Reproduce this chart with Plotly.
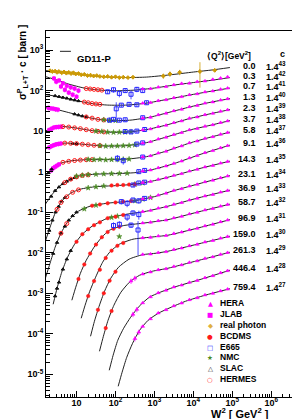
import plotly.graph_objects as go

# ---------------- labels ----------------
q2_labels = ["0.0", "0.3", "0.7", "1.3", "2.3", "3.7", "5.8", "9.1", "14.3", "23.1",
             "36.9", "58.7", "96.9", "159.0", "261.3", "446.4", "759.4"]
c_exponents = [43, 42, 41, 40, 39, 38, 37, 36, 35, 34, 33, 32, 31, 30, 29, 28, 27]

# ---------------- GD11-P model curves: log10(W^2) and log10(sigma*c) ----------------
c0_lw2 = [0.2, 0.7, 1.2, 1.8, 2.3, 2.8, 3.4, 4.0, 4.5, 4.94]
c0_ls = [2.494, 2.444, 2.383, 2.333, 2.321, 2.333, 2.388, 2.457, 2.511, 2.568]
c1_lw2 = [0.2, 0.5, 0.8, 1.2, 1.6, 2.0, 2.5, 3.0, 3.5, 4.0, 4.5, 4.94]
c1_ls = [2.346, 2.259, 2.160, 2.062, 2.012, 1.995, 2.012, 2.062, 2.136, 2.198, 2.259, 2.321]
c2_lw2 = [0.2, 0.6, 1.0, 1.4, 1.8, 2.3, 2.8, 3.3, 3.9, 4.4, 4.94]
c2_ls = [1.901, 1.840, 1.753, 1.679, 1.642, 1.642, 1.691, 1.778, 1.889, 1.975, 2.062]
c3_lw2 = [0.2, 0.5, 0.8, 1.2, 1.6, 2.0, 2.4, 2.9, 3.4, 3.9, 4.4, 4.94]
c3_ls = [1.580, 1.531, 1.457, 1.358, 1.284, 1.259, 1.272, 1.346, 1.469, 1.593, 1.704, 1.802]
c4_lw2 = [0.2, 0.45, 0.7, 1.0, 1.4, 1.8, 2.3, 2.8, 3.3, 3.9, 4.4, 4.94]
c4_ls = [1.000, 1.099, 1.111, 1.074, 1.012, 0.975, 0.975, 1.037, 1.148, 1.309, 1.420, 1.531]
c5_lw2 = [0.2, 0.45, 0.7, 1.0, 1.4, 1.8, 2.3, 2.8, 3.3, 3.9, 4.4, 4.94]
c5_ls = [0.556, 0.667, 0.704, 0.691, 0.654, 0.630, 0.642, 0.716, 0.852, 1.025, 1.136, 1.259]
c6_lw2 = [0.2, 0.4, 0.6, 0.9, 1.3, 1.8, 2.3, 2.8, 3.3, 3.9, 4.4, 4.94]
c6_ls = [-0.111, 0.086, 0.210, 0.272, 0.296, 0.296, 0.309, 0.370, 0.506, 0.704, 0.840, 0.975]
c7_lw2 = [0.2, 0.4, 0.6, 0.85, 1.1, 1.5, 2.0, 2.5, 3.0, 3.5, 4.2, 4.94]
c7_ls = [-0.802, -0.531, -0.333, -0.185, -0.099, -0.062, -0.049, -0.025, 0.062, 0.198, 0.432, 0.654]
c8_lw2 = [0.2, 0.32, 0.45, 0.62, 0.85, 1.1, 1.5, 2.0, 2.5, 3.0, 3.5, 4.2, 4.94]
c8_ls = [-1.716, -1.370, -1.025, -0.728, -0.531, -0.432, -0.370, -0.346, -0.309, -0.222, -0.099, 0.086, 0.259]
c9_lw2 = [0.2, 0.32, 0.45, 0.6, 0.8, 1.05, 1.35, 1.8, 2.5, 3.0, 3.5, 4.2, 4.94]
c9_ls = [-2.630, -2.259, -1.864, -1.519, -1.198, -0.975, -0.852, -0.778, -0.716, -0.617, -0.469, -0.284, -0.099]
c10_lw2 = [0.4, 0.5, 0.62, 0.77, 0.95, 1.15, 1.4, 1.8, 2.3, 2.8, 3.35, 4.1, 4.94]
c10_ls = [-3.272, -2.877, -2.481, -2.111, -1.790, -1.543, -1.346, -1.148, -1.049, -0.975, -0.852, -0.654, -0.457]
c11_lw2 = [0.88, 0.98, 1.1, 1.25, 1.45, 1.65, 1.85, 2.2, 2.7, 3.35, 4.1, 4.94]
c11_ls = [-3.173, -2.852, -2.506, -2.185, -1.864, -1.617, -1.444, -1.333, -1.272, -1.185, -1.000, -0.802]
c12_lw2 = [1.12, 1.22, 1.34, 1.49, 1.67, 1.85, 2.1, 2.45, 2.9, 3.35, 4.1, 4.94]
c12_ls = [-3.617, -3.296, -2.951, -2.605, -2.235, -1.988, -1.790, -1.667, -1.617, -1.568, -1.395, -1.185]
c13_lw2 = [1.36, 1.46, 1.58, 1.72, 1.88, 2.08, 2.35, 2.7, 3.05, 3.35, 4.1, 4.94]
c13_ls = [-4.062, -3.691, -3.321, -2.951, -2.630, -2.358, -2.160, -2.049, -2.012, -1.963, -1.790, -1.593]
c14_lw2 = [1.59, 1.69, 1.81, 1.96, 2.14, 2.36, 2.62, 2.95, 3.35, 4.1, 4.94]
c14_ls = [-4.432, -4.062, -3.667, -3.296, -2.975, -2.728, -2.556, -2.457, -2.383, -2.198, -1.988]
c15_lw2 = [1.84, 1.94, 2.06, 2.21, 2.39, 2.61, 2.87, 3.15, 3.5, 4.2, 4.94]
c15_ls = [-4.901, -4.531, -4.160, -3.864, -3.593, -3.321, -3.099, -2.975, -2.852, -2.654, -2.432]
c16_lw2 = [2.07, 2.17, 2.29, 2.44, 2.62, 2.84, 3.1, 3.4, 3.8, 4.3, 4.94]
c16_ls = [-5.296, -4.951, -4.580, -4.235, -3.914, -3.667, -3.494, -3.358, -3.198, -3.049, -2.889]

# ---------------- HERA (log10 W^2 shared, log10 sigma*c per Q2 bin) ----------------
hera_lw2 = [2.7, 2.9, 3.1, 3.3, 3.5, 3.7, 3.9, 4.1, 4.3, 4.5, 4.7, 4.88]
hera_q1 = [2.042, 2.047, 2.085, 2.096, 2.141, 2.173, 2.180, 2.220, 2.235, 2.274, 2.307, 2.338]
hera_q2 = [1.688, 1.703, 1.750, 1.772, 1.822, 1.848, 1.897, 1.918, 1.965, 1.988, 2.030, 2.060]
hera_q3 = [1.322, 1.340, 1.402, 1.439, 1.500, 1.538, 1.600, 1.632, 1.689, 1.718, 1.765, 1.797]
hera_q4 = [1.030, 1.053, 1.110, 1.143, 1.208, 1.250, 1.315, 1.348, 1.404, 1.437, 1.489, 1.524]
hera_q5 = [0.706, 0.738, 0.804, 0.847, 0.916, 0.962, 1.031, 1.064, 1.120, 1.155, 1.210, 1.250]
hera_q6 = [0.363, 0.392, 0.458, 0.501, 0.578, 0.633, 0.710, 0.753, 0.819, 0.860, 0.921, 0.965]
hera_q7 = [0.015, 0.040, 0.095, 0.139, 0.204, 0.260, 0.338, 0.394, 0.468, 0.517, 0.588, 0.641]
hera_q8 = [-0.269, -0.244, -0.191, -0.153, -0.093, -0.051, 0.013, 0.055, 0.115, 0.151, 0.209, 0.250]
hera_q9 = [-0.671, -0.642, -0.581, -0.533, -0.463, -0.421, -0.357, -0.315, -0.253, -0.214, -0.153, -0.109]
hera_q10 = [-0.985, -0.958, -0.902, -0.868, -0.806, -0.765, -0.701, -0.659, -0.601, -0.565, -0.507, -0.466]
hera_q11 = [-1.267, -1.250, -1.212, -1.197, -1.142, -1.104, -1.043, -1.005, -0.947, -0.911, -0.853, -0.811]
hera_q12 = [-1.634, -1.622, -1.589, -1.578, -1.527, -1.492, -1.435, -1.400, -1.339, -1.300, -1.239, -1.195]
hera_q13 = [-2.044, -2.033, -1.998, -1.976, -1.922, -1.887, -1.830, -1.795, -1.737, -1.701, -1.643, -1.602]
hera_q14 = [-2.527, -2.477, -2.423, -2.397, -2.340, -2.302, -2.241, -2.203, -2.142, -2.103, -2.042, -1.998]
hera_q15 = [-3.239, -3.091, -2.991, -2.927, -2.846, -2.800, -2.733, -2.687, -2.618, -2.569, -2.497, -2.445]
hera_q16 = [-3.819, -3.632, -3.488, -3.408, -3.312, -3.243, -3.162, -3.114, -3.043, -3.004, -2.943, -2.899]
hera_low_lw2 = [2.4, 2.5, 2.45, 2.55, 2.5, 2.6]
hera_low_ls = [-2.70, -2.63, -3.52, -3.40, -4.12, -3.96]

# ---------------- real photon ----------------
gam_lw2 = [0.32, 0.38, 0.45, 0.5, 0.55, 0.62, 0.68, 0.74, 0.8, 0.86, 0.92, 0.98, 1.05, 1.12, 1.2,
           1.28, 1.36, 1.44, 1.52, 1.6, 1.7, 1.8, 1.9, 2.0, 2.1, 2.2, 2.32, 2.45, 3.23, 3.4, 3.65, 4.17, 4.55]
gam_ls = [2.49, 2.47, 2.48, 2.45, 2.47, 2.44, 2.46, 2.43, 2.45, 2.42, 2.44, 2.41, 2.42, 2.39, 2.40,
          2.37, 2.38, 2.36, 2.37, 2.35, 2.34, 2.35, 2.33, 2.34, 2.32, 2.33, 2.32, 2.33, 2.36, 2.41, 2.45, 2.47, 2.50]
gam_rel = [0.04, 0.04, 0.04, 0.04, 0.04, 0.04, 0.04, 0.04, 0.04, 0.04, 0.04, 0.04, 0.05, 0.05, 0.05,
           0.05, 0.12, 0.05, 0.05, 0.05, 0.05, 0.05, 0.05, 0.05, 0.05, 0.05, 0.05, 0.05, 0.15, 0.15, 0.15, 0.7, 0.06]

# ---------------- JLAB ----------------
jlab_lw2 = [0.42, 0.48, 0.55, 0.6, 0.65, 0.7, 0.75, 0.8, 0.85, 0.9, 0.95, 1.0, 1.05,
            0.28, 0.34, 0.4, 0.46, 0.52,
            0.3, 0.36, 0.42, 0.48, 0.54, 0.6,
            0.3, 0.36, 0.42, 0.48, 0.54, 0.6,
            0.35, 0.4, 0.45, 0.5, 0.55]
jlab_ls = [2.30, 2.22, 2.25, 2.10, 2.18, 2.02, 2.12, 1.95, 2.08, 1.90, 2.05, 1.85, 2.00,
           1.575, 1.56, 1.555, 1.54, 1.53,
           1.03, 1.06, 1.09, 1.10, 1.105, 1.11,
           0.60, 0.63, 0.655, 0.675, 0.685, 0.695,
           0.03, 0.086, 0.12, 0.15, 0.18]

# ---------------- SLAC ----------------
slac_lw2 = [0.45, 0.55, 0.65, 0.75, 0.85, 0.95, 1.05,
            0.95, 1.05, 1.15, 1.25,
            0.9, 1.0,
            0.28, 0.36,
            0.35, 0.45, 0.55, 0.65, 0.75, 0.85, 0.95,
            0.3, 0.38, 0.46, 0.54, 0.62, 0.7,
            0.4, 0.5, 0.6, 0.7, 0.8, 0.9, 1.0,
            0.45, 0.5, 0.55, 0.65, 0.75, 0.85]
slac_ls = [1.87, 1.85, 1.83, 1.81, 1.785, 1.765, 1.745,
           1.42, 1.395, 1.37, 1.35,
           0.695, 0.69,
           -0.03, 0.06,
           -0.61, -0.47, -0.38, -0.30, -0.24, -0.19, -0.15,
           -1.45, -1.20, -1.00, -0.86, -0.73, -0.64,
           -2.02, -1.75, -1.52, -1.35, -1.20, -1.09, -1.00,
           -3.07, -2.88, -2.73, -2.41, -2.16, -1.95]

# ---------------- HERMES ----------------
hermes_lw2 = [1.25, 1.35, 1.45, 1.55, 1.65,
              1.2, 1.3, 1.4, 1.5, 1.6,
              1.25, 1.4, 1.55, 1.7,
              0.65, 0.8, 0.95, 1.1, 1.25, 1.4, 1.55, 1.7,
              0.7, 0.85, 1.0, 1.15, 1.3, 1.45, 1.6,
              0.65, 0.8, 0.95, 1.1, 1.25, 1.4,
              0.7, 0.85, 1.0, 1.15, 1.3,
              0.5, 0.6, 0.75, 0.9, 1.05,
              0.6, 0.75]
hermes_ls = [2.05, 2.04, 2.03, 2.02, 2.01,
             1.716, 1.70, 1.68, 1.67, 1.66,
             1.35, 1.32, 1.29, 1.275,
             1.11, 1.10, 1.08, 1.06, 1.035, 1.012, 0.995, 0.98,
             0.704, 0.70, 0.691, 0.677, 0.663, 0.651, 0.642,
             0.23, 0.255, 0.275, 0.285, 0.295, 0.296,
             -0.27, -0.185, -0.13, -0.095, -0.08,
             -0.93, -0.76, -0.62, -0.51, -0.45,
             -1.52, -1.28]

# ---------------- NMC ----------------
nmc_lw2 = [1.7, 1.85, 2.0,
           1.5, 1.65, 1.8, 1.95, 2.1, 2.25, 2.4,
           1.6, 1.75, 1.9, 2.05, 2.2, 2.35, 2.5,
           1.3, 1.45, 1.6, 1.75, 1.9, 2.05, 2.2, 2.35,
           1.0, 1.15, 1.3, 1.5, 1.7, 1.9, 2.1, 2.3,
           1.3, 1.5, 1.7, 2.5, 2.7,
           1.2, 1.5, 2.5, 2.7, 2.9,
           1.9, 2.05,
           2.1]
nmc_ls = [1.28, 1.265, 1.26,
          1.0, 0.99, 0.975, 0.97, 0.975, 0.975, 0.985,
          0.64, 0.63, 0.633, 0.635, 0.64, 0.645, 0.66,
          0.30, 0.295, 0.30, 0.29, 0.296, 0.30, 0.305, 0.31,
          -0.11, -0.09, -0.075, -0.065, -0.055, -0.05, -0.045, -0.04,
          -0.40, -0.375, -0.355, -0.31, -0.28,
          -0.92, -0.83, -0.72, -0.68, -0.64,
          -1.13, -1.10,
          -1.60]

# ---------------- BCDMS ----------------
bcdms_lw2 = [1.9, 2.05, 2.2, 2.35, 2.5,
             1.4, 1.6, 1.8, 2.0, 2.2, 2.4,
             1.0, 1.15, 1.3, 1.45, 1.6, 1.8, 2.0, 2.2,
             1.05, 1.2, 1.35, 1.5, 1.65, 1.8, 1.95, 2.1,
             1.3, 1.45, 1.6, 1.75, 1.9, 2.05, 2.2,
             1.55, 1.7, 1.85, 2.0,
             1.75, 1.9]
bcdms_ls = [-0.34, -0.33, -0.33, -0.32, -0.31,
            -0.84, -0.81, -0.78, -0.76, -0.74, -0.725,
            -1.73, -1.543, -1.42, -1.32, -1.25, -1.148, -1.11, -1.07,
            -2.65, -2.29, -2.02, -1.80, -1.617, -1.49, -1.41, -1.36,
            -3.07, -2.70, -2.42, -2.13, -1.95, -1.83, -1.76,
            -3.41, -3.00, -2.69, -2.47,
            -3.86, -3.44]

# ---------------- E665 ----------------
e665_lw2 = [1.8, 1.95, 2.1, 2.25, 2.4, 2.55, 2.7,
            2.02, 2.15, 2.35, 2.55, 2.8,
            1.85, 1.95, 2.1, 2.25, 2.7,
            2.25, 2.4, 2.55, 2.75,
            2.55, 2.7,
            2.05, 2.2, 2.7,
            2.6, 2.75,
            2.45, 2.6, 2.75,
            2.15, 2.3, 2.45, 2.6, 2.75,
            2.3, 2.45, 2.6,
            1.95, 2.1, 2.4, 2.58]
e665_ls = [1.97, 2.02, 1.93, 2.00, 1.91, 2.03, 2.00,
           1.55, 1.64, 1.66, 1.65, 1.70,
           1.27, 1.29, 1.27, 1.28, 1.33,
           0.99, 0.98, 1.00, 1.04,
           0.68, 0.71,
           0.33, 0.27, 0.36,
           0.00, 0.03,
           -0.33, -0.28, -0.26,
           -0.74, -0.78, -0.70, -0.72, -0.66,
           -1.12, -1.02, -1.06,
           -1.33, -1.30, -1.32, -1.44]
e665_rel = [0.12, 0.15, 0.2, 0.12, 0.25, 0.15, 0.12,
            0.45, 0.1, 0.12, 0.1, 0.1,
            0.1, 0.1, 0.1, 0.1, 0.1,
            0.1, 0.1, 0.1, 0.1,
            0.1, 0.1,
            0.2, 0.2, 0.1,
            0.1, 0.1,
            0.1, 0.1, 0.1,
            0.15, 0.2, 0.12, 0.15, 0.1,
            0.2, 0.15, 0.25,
            0.2, 0.2, 0.15, 0.0]
# the one large E665 uncertainty (log10 of lower / upper ends of the bar)
e665_big_lw2 = [2.58]
e665_big_lo = [-2.06]
e665_big_hi = [-1.22]

# ---------------------------------------------------------------------------
def tv(vals):
    return [10 ** v for v in vals]

curves = [(c0_lw2, c0_ls), (c1_lw2, c1_ls), (c2_lw2, c2_ls), (c3_lw2, c3_ls), (c4_lw2, c4_ls),
          (c5_lw2, c5_ls), (c6_lw2, c6_ls), (c7_lw2, c7_ls), (c8_lw2, c8_ls), (c9_lw2, c9_ls),
          (c10_lw2, c10_ls), (c11_lw2, c11_ls), (c12_lw2, c12_ls), (c13_lw2, c13_ls),
          (c14_lw2, c14_ls), (c15_lw2, c15_ls), (c16_lw2, c16_ls)]
hera_bins = [hera_q1, hera_q2, hera_q3, hera_q4, hera_q5, hera_q6, hera_q7, hera_q8, hera_q9,
             hera_q10, hera_q11, hera_q12, hera_q13, hera_q14, hera_q15, hera_q16]

MAG = "#ff00ff"
GOLD = "#cc9a06"
RED = "#ff1a1a"
BLUE = "#2323ff"
GREEN = "#4a8a24"
FONT = "Liberation Sans, Arial, sans-serif"

fig = go.Figure()

for lw, ls in curves:
    fig.add_trace(go.Scatter(x=tv(lw), y=tv(ls), mode="lines",
                             line=dict(color="#222222", width=1, shape="spline", smoothing=0.6),
                             hoverinfo="skip", showlegend=False))

def pts(lw, ls, symbol, color, size, rel=None, pct=None, lw_line=1.0):
    xs, ys = tv(lw), tv(ls)
    err = None
    if rel is not None:
        up = [r * y for r, y in zip(rel, ys)]
        dn = [min(r, 0.6) * y for r, y in zip(rel, ys)]
        err = dict(type="data", symmetric=False, array=up, arrayminus=dn, color=color,
                   thickness=0.8, width=0)
    elif pct is not None:
        err = dict(type="percent", value=pct, color=color, thickness=0.8, width=0)
    fig.add_trace(go.Scatter(x=xs, y=ys, mode="markers",
                             marker=dict(symbol=symbol, color=color, size=size,
                                         line=dict(color=color, width=lw_line)),
                             error_y=err, showlegend=False, hoverinfo="skip"))

pts(gam_lw2, gam_ls, "diamond", GOLD, 3, rel=gam_rel)
pts(jlab_lw2, jlab_ls, "square", MAG, 3, pct=14)
pts(slac_lw2, slac_ls, "triangle-up", "#111111", 3, pct=5)
pts(hermes_lw2, hermes_ls, "circle-open", RED, 4, pct=3)
pts(nmc_lw2, nmc_ls, "star", GREEN, 4, pct=5, lw_line=0.5)
pts(bcdms_lw2, bcdms_ls, "circle", RED, 3.5, pct=3, lw_line=0.5)
pts(e665_lw2, e665_ls, "square-open", BLUE, 4, rel=e665_rel)
# large uncertainty bar drawn as a line between its two ends
fig.add_trace(go.Scatter(x=tv(e665_big_lw2 * 2), y=tv(e665_big_lo + e665_big_hi), mode="lines",
                         line=dict(color=BLUE, width=0.8), showlegend=False, hoverinfo="skip"))
for vals in hera_bins:
    pts(hera_lw2, vals, "triangle-up", MAG, 3.5, pct=6, lw_line=0.5)
pts(hera_low_lw2, hera_low_ls, "triangle-up", MAG, 3.5, pct=15, lw_line=0.5)

# ---------------- axes ----------------
x_tickvals = [10, 100, 1e3, 1e4, 1e5, 1e6]
x_ticktext = ["<b>10</b>", "<b>10<sup>2</sup></b>", "<b>10<sup>3</sup></b>", "<b>10<sup>4</sup></b>",
              "<b>10<sup>5</sup></b>", "<b>10<sup>6</sup></b>"]
y_tickvals = [1e-5, 1e-4, 1e-3, 1e-2, 1e-1, 1, 10, 100, 1000]
y_ticktext = ["<b>10<sup>-5</sup></b>", "<b>10<sup>-4</sup></b>", "<b>10<sup>-3</sup></b>",
              "<b>10<sup>-2</sup></b>", "<b>10<sup>-1</sup></b>", "<b>1</b>", "<b>10</b>",
              "<b>10<sup>2</sup></b>", "<b>10<sup>3</sup></b>"]
x_minor = [m * 10 ** e for e in range(0, 7) for m in range(2, 10)]
y_minor = [m * 10 ** e for e in range(-6, 4) for m in range(2, 10)]

fig.update_xaxes(type="log", range=[0.216, 6.74], showline=True, mirror=True, linecolor="black",
                 linewidth=1, ticks="inside", ticklen=6, tickcolor="black", tickmode="array",
                 tickvals=x_tickvals, ticktext=x_ticktext, showgrid=False, zeroline=False,
                 ticklabelstandoff=-3,
                 tickfont=dict(family=FONT, size=9, color="black"),
                 minor=dict(tickmode="array", tickvals=x_minor, ticks="inside", ticklen=3,
                            tickcolor="black", showgrid=False))
fig.update_yaxes(type="log", range=[-5.56, 3.47], showline=True, mirror=True, linecolor="black",
                 linewidth=1, ticks="inside", ticklen=7, tickcolor="black", tickmode="array",
                 tickvals=y_tickvals, ticktext=y_ticktext, showgrid=False, zeroline=False,
                 tickfont=dict(family=FONT, size=9, color="black"),
                 minor=dict(tickmode="array", tickvals=y_minor, ticks="inside", ticklen=4,
                            tickcolor="black", showgrid=False))

ann = []
# axis titles
ann.append(dict(text="<b>σ<sup>P</sup><sub>L+T</sub> · c [ barn ]</b>", xref="paper", yref="paper",
                x=-0.095, y=0.915, xanchor="center", yanchor="middle", textangle=-90,
                showarrow=False, font=dict(family=FONT, size=10, color="black")))
ann.append(dict(text="<b>W<sup>2</sup> [ GeV<sup>2</sup> ]</b>", xref="paper", yref="paper",
                x=0.885, y=-0.069, showarrow=False, font=dict(family=FONT, size=11, color="black")))
# model label
ann.append(dict(text="<b>GD11-P</b>", xref="paper", yref="paper", x=0.114, y=0.9445,
                xanchor="left", showarrow=False, font=dict(family=FONT, size=9.5, color="black")))
# table header
ann.append(dict(text="<b>⟨Q<sup>2</sup>⟩[GeV<sup>2</sup>]</b>", xref="paper", yref="paper",
                x=0.816, y=0.954, showarrow=False, font=dict(family=FONT, size=8.5, color="black")))
ann.append(dict(text="<b>c</b>", xref="paper", yref="paper", x=0.947, y=0.956, showarrow=False,
                font=dict(family=FONT, size=9, color="black")))
for (lw, ls), q, e in zip(curves, q2_labels, c_exponents):
    ann.append(dict(text="<b>%s</b>" % q, xref="paper", yref="y", x=0.836, y=ls[-1] + 0.05,
                    showarrow=False, font=dict(family=FONT, size=9, color="black")))
    ann.append(dict(text="<b>1.4<sup>%d</sup></b>" % e, xref="paper", yref="y", x=0.952,
                    y=ls[-1] + 0.05, showarrow=False, font=dict(family=FONT, size=9, color="black")))

# legend (drawn as text)
legend_items = [("▲", MAG, "HERA"), ("■", MAG, "JLAB"), ("◆", "#e0b040", "real photon"),
                ("●", RED, "BCDMS"), ("□", BLUE, "E665"), ("★", GREEN, "NMC"),
                ("△", "#333333", "SLAC"), ("○", RED, "HERMES")]
for i, (sym, col, name) in enumerate(legend_items):
    yy = 0.238 - i * 0.0298
    ann.append(dict(text=sym, xref="paper", yref="paper", x=0.646, y=yy, showarrow=False,
                    font=dict(family="DejaVu Sans", size=6.5, color=col)))
    ann.append(dict(text="<b>%s</b>" % name, xref="paper", yref="paper", x=0.678, y=yy,
                    xanchor="left", showarrow=False, font=dict(family=FONT, size=8.5, color="black")))

fig.update_layout(
    width=300, height=419,
    margin=dict(l=38, r=8, t=23, b=30),
    plot_bgcolor="white", paper_bgcolor="white",
    showlegend=False,
    annotations=ann,
    shapes=[dict(type="line", xref="paper", yref="paper", x0=0.055, x1=0.098, y0=0.9445, y1=0.9445,
                 line=dict(color="#222222", width=1))],
)

fig.write_html("out.html")
